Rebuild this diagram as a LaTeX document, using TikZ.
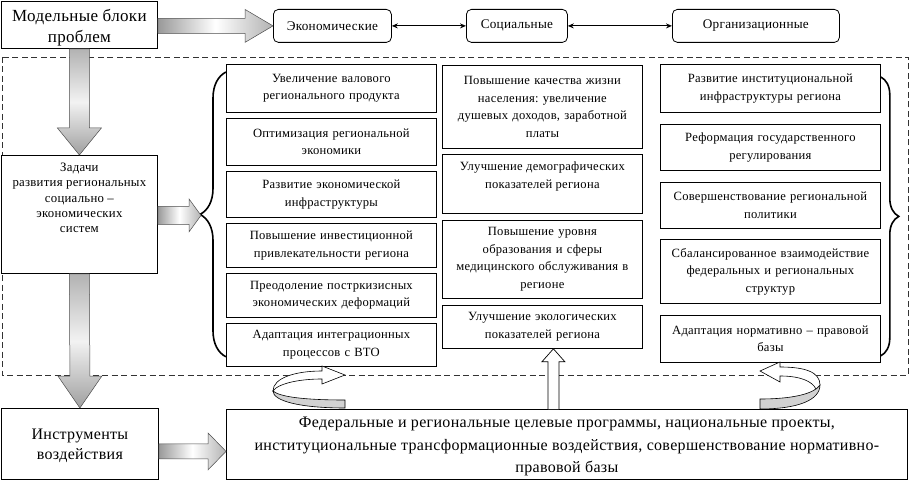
\documentclass[tikz,border=0pt]{standalone}
\usepackage{fontspec}
\setmainfont[LetterSpace=2]{Liberation Serif}
\frenchspacing
\usetikzlibrary{positioning}
\usetikzlibrary{arrows.meta}
\usetikzlibrary{calc}
\usetikzlibrary{decorations.pathreplacing}

\tikzset{
  blockbox/.style={draw, line width=0.8pt, fill=white, align=center, inner sep=2pt, anchor=north west},
  blocktext/.style={anchor=north, align=center, inner sep=0pt},
  catbox/.style={draw, rounded corners=5pt, line width=0.8pt, anchor=north west, minimum height=33pt, font=\fontsize{13.2}{15}\selectfont},
  itembox/.style={draw, line width=0.8pt, anchor=north west, align=center, inner sep=2pt, font=\fontsize{12.6}{17.5}\selectfont},
  fatarrow/.style={draw=gray!60!black, line width=0.5pt},
  hollowarrow/.style={draw, fill=white, line width=0.7pt},
  twist/.style={draw, line width=0.6pt},
  zone/.style={draw=gray!40!black, line width=0.8pt, dash pattern=on 6pt off 3.5pt},
  bracket/.style={decorate, decoration={brace, amplitude=#1}, line width=1.6pt},
  link/.style={{Stealth[length=6pt,width=5pt]}-{Stealth[length=6pt,width=5pt]}, line width=1.2pt}
}

% fat arrows: start, end, shaft half width, head half width, head length
\newcommand{\hfatarrow}[5]{%
  \shade[fatarrow, left color=gray!80, right color=gray!60, middle color=white]
    ($(#1)+(0,-#3)$) -- ($(#2)+(-#5,-#3)$) -- ($(#2)+(-#5,-#4)$) -- (#2)
    -- ($(#2)+(-#5,#4)$) -- ($(#2)+(-#5,#3)$) -- ($(#1)+(0,#3)$) -- cycle;}
\newcommand{\vfatarrow}[5]{%
  \shade[fatarrow, top color=gray!60, bottom color=gray!75, middle color=gray!10]
    ($(#1)+(-#3,0)$) -- ($(#2)+(-#3,-#5)$) -- ($(#2)+(-#4,-#5)$) -- (#2)
    -- ($(#2)+(#4,-#5)$) -- ($(#2)+(#3,-#5)$) -- ($(#1)+(#3,0)$) -- cycle;}

\begin{document}
\begin{tikzpicture}[x=1pt, y=-1pt]
        \useasboundingbox (0,0) rectangle (911,481);

        % top row
        \node[blockbox, minimum width=156pt, minimum height=47pt] (blocks) at (1,1) {};
        \node[blocktext, font=\fontsize{17}{21}\selectfont] (blockstext) at ([yshift=-8pt]blocks.north) {Модельные блоки\\проблем};
        \node[catbox, minimum width=118pt] (econ) at (273,9) {Экономические};
        \node[catbox, minimum width=101pt] (soc) at (466,9) {Социальные};
        \node[catbox, minimum width=167pt] (org) at (672,9) {Организационные};
        \draw[link] (econ) -- (soc);
        \draw[link] (soc) -- (org);

        \draw[zone] (2,57) rectangle (908,375);

        % left column
        \node[blockbox, minimum width=156pt, minimum height=118pt] (tasks) at (1,155) {};
        \node[blocktext, font=\fontsize{12.8}{15.2}\selectfont] (taskstext) at ([yshift=-8pt]tasks.north) {Задачи\\развития региональных\\социально –\\экономических\\систем};
        \node[blockbox, minimum width=157pt, minimum height=71pt] (tools) at (1,408) {};
        \node[blocktext, font=\fontsize{16}{20}\selectfont] (toolstext) at ([yshift=-21pt]tools.north) {Инструменты\\воздействия};
        \node[blockbox, minimum width=681pt, minimum height=70pt] (measures) at (226,409) {};
        \node[blocktext, font=\fontsize{16}{22.5}\selectfont] (measurestext) at ([yshift=-8pt]measures.north) {Федеральные и региональные целевые программы, национальные проекты,\\институциональные трансформационные воздействия, совершенствование нормативно-\\правовой базы};

        % economic tasks
        \node[itembox, minimum width=210pt, text width=204pt, minimum height=48pt] (a1) at (226,64) {Увеличение валового\\регионального продукта};
        \node[itembox, minimum width=210pt, text width=204pt, minimum height=47pt] (a2) at (226,118) {Оптимизация региональной\\экономики};
        \node[itembox, minimum width=210pt, text width=204pt, minimum height=46pt] (a3) at (226,171) {Развитие экономической\\инфраструктуры};
        \node[itembox, minimum width=210pt, text width=204pt, minimum height=44pt] (a4) at (226,223) {Повышение инвестиционной\\привлекательности региона};
        \node[itembox, minimum width=210pt, text width=204pt, minimum height=44pt] (a5) at (226,273) {Преодоление постркизисных\\экономических деформаций};
        \node[itembox, minimum width=210pt, text width=204pt, minimum height=43pt] (a6) at (226,323) {Адаптация интеграционных\\процессов с ВТО};

        % social tasks
        \node[itembox, minimum width=200pt, text width=194pt, minimum height=83pt] (b1) at (442,65) {Повышение качества жизни\\населения: увеличение\\душевых доходов, заработной\\платы};
        \node[itembox, minimum width=200pt, minimum height=59pt] (b2) at (442,154) {};
        \node[blocktext, font=\fontsize{12.6}{17.5}\selectfont] (b2text) at ([yshift=-8pt]b2.north) {Улучшение демографических\\показателей региона};
        \node[itembox, minimum width=200pt, text width=194pt, minimum height=78pt] (b3) at (442,220) {Повышение уровня\\образования и сферы\\медицинского обслуживания в\\регионе};
        \node[itembox, minimum width=200pt, text width=194pt, minimum height=43pt] (b4) at (442,305) {Улучшение экологических\\показателей региона};

        % organisational tasks
        \node[itembox, minimum width=220pt, text width=214pt, minimum height=48pt] (c1) at (660,64) {Развитие институциональной\\инфраструктуры региона};
        \node[itembox, minimum width=220pt, text width=214pt, minimum height=46pt] (c2) at (660,124) {Реформация государственного\\регулирования};
        \node[itembox, minimum width=220pt, text width=214pt, minimum height=46pt] (c3) at (660,182) {Совершенствование региональной\\политики};
        \node[itembox, minimum width=220pt, text width=214pt, minimum height=64pt] (c4) at (660,239) {Сбалансированное взаимодействие\\федеральных и региональных\\структур};
        \node[itembox, minimum width=220pt, text width=214pt, minimum height=47pt] (c5) at (660,315) {Адаптация нормативно – правовой\\базы};

        % braces
        \draw[bracket=26pt] ([yshift=10pt]a6.south west) -- ([yshift=-8pt]a1.north west);
        \draw[bracket=18pt] ([yshift=-13pt]c1.north east) -- ([yshift=7pt]c5.south east);
        \coordinate (ltip) at ($(a1.north west)!0.5!(a6.south west)+(-25,0)$);

        % fat arrows
        \coordinate (bstart) at (blocks.east |- econ.west);
        \hfatarrow{bstart}{econ.west}{7.5}{16.5}{28}
        \coordinate (tstart) at (tasks.east |- ltip);
        \hfatarrow{tstart}{ltip}{9}{16.5}{12}
        \coordinate (mend) at ([yshift=-7pt]measures.west);
        \coordinate (ostart) at (tools.east |- mend);
        \hfatarrow{ostart}{mend}{7.5}{18.5}{18}
        \vfatarrow{blocks.south}{tasks.north}{10}{22}{27}
        \vfatarrow{tasks.south}{tools.north}{10}{22}{32}

        % hollow arrow up
        \coordinate (upend) at ([xshift=11pt]b4.south);
        \coordinate (upstart) at (upend |- measures.north);
        \draw[hollowarrow] ($(upstart)+(-5.5,0)$) -- ($(upend)+(-5.5,13)$) -- ($(upend)+(-11.5,13)$) -- (upend)
            -- ($(upend)+(11.5,13)$) -- ($(upend)+(5.5,13)$) -- ($(upstart)+(5.5,0)$);

        % curled arrows
        \draw[twist, fill=gray!35] (345,400) -- (345,408) .. controls (300,408) and (273,401) .. (273,391)
            .. controls (280,397) and (305,400) .. (345,400) -- cycle;
        \draw[twist, fill=white] (273,391) .. controls (273,378) and (295,371) .. (322,371) -- (322,366) -- (345,375)
            -- (322,384) -- (322,379) .. controls (300,379) and (283,383) .. (276,388) -- cycle;
        \draw[twist, fill=gray!35] (760,399) -- (760,409) .. controls (798,409) and (820,400) .. (820,385)
            .. controls (815,393) and (795,399) .. (760,399) -- cycle;
        \draw[twist, fill=white] (820,385) .. controls (820,372) and (805,367) .. (780,367) -- (780,362) -- (760,371)
            -- (780,382) -- (780,376) .. controls (800,376) and (812,381) .. (816,389) -- cycle;
\end{tikzpicture}
\end{document}
